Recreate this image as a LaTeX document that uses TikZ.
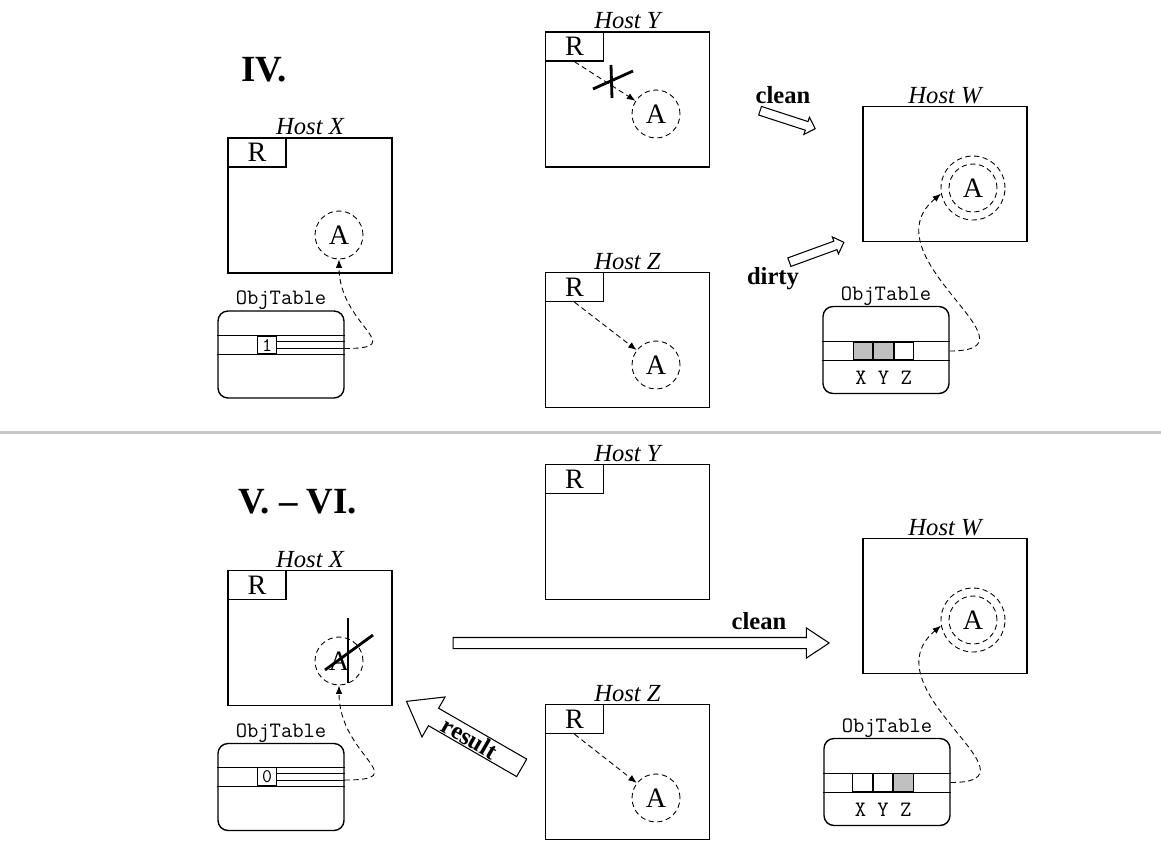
\documentclass[tikz,border=0pt]{standalone}
\usepackage{fontspec}
\setmainfont{Liberation Serif}
\usepackage{tikz}
\usetikzlibrary{arrows.meta,positioning,calc,shapes.arrows}
\definecolor{cellgrey}{RGB}{192,192,192}
\definecolor{rulegrey}{RGB}{200,200,200}

\begin{document}
\begin{tikzpicture}[x=0.02cm,y=-0.02cm,
  host/.style={draw,line width=0.8pt,minimum width=3.28cm,minimum height=2.7cm,inner sep=0pt},
  hostlbl/.style={font=\fontsize{14}{16}\selectfont\itshape,inner sep=1pt},
  rbox/.style={draw,line width=0.8pt,minimum width=1.16cm,minimum height=0.58cm,inner sep=0pt,anchor=north west,font=\fontsize{16}{18}\selectfont},
  obj/.style={draw,densely dashed,circle,line width=0.5pt,minimum size=0.96cm,inner sep=0pt,font=\fontsize{16}{18}\selectfont},
  ring/.style={draw,densely dashed,circle,line width=0.5pt,minimum size=1.28cm,inner sep=0pt},
  objtab/.style={draw,rounded corners=2mm,line width=0.8pt,minimum width=2.52cm,minimum height=1.74cm,inner sep=0pt},
  tablbl/.style={font=\ttfamily\fontsize{12.5}{14}\selectfont,inner sep=0pt},
  cell/.style={draw,line width=0.6pt,minimum width=0.39cm,minimum height=0.36cm,inner sep=0pt,font=\ttfamily\fontsize{11}{12}\selectfont},
  ref/.style={densely dashed,line width=0.5pt,-{Latex[length=1.7mm,width=1.3mm]}},
  refloose/.style={ref,dash pattern=on 3pt off 2pt},
  cut/.style={line width=1.6pt},
  msg/.style={font=\fontsize{14}{16}\selectfont\bfseries,inner sep=0pt},
  hollow/.style={single arrow,draw,line width=0.6pt,inner xsep=0pt,inner ysep=0.08cm,single arrow head extend=0.09cm,single arrow tip angle=90,minimum height=1.16cm},
  stage/.style={font=\fontsize{21}{24}\selectfont\bfseries}
]
\useasboundingbox (0,0) rectangle (1161,846);

% stage IV
\node[stage] (stIV) at (264,70) {IV.};

\node[host] (hostXa) at (310,205.5) {};
\node[hostlbl,above=0pt of hostXa] (lblXa) {Host X};
\node[rbox] (rXa) at (hostXa.north west) {R};
\node[obj] (aXa) at (339,235) {A};
\node[objtab] (tabXa) at (281,354.5) {};
\node[tablbl,above=0pt of tabXa] (tlXa) {ObjTable};
\node[cell] (cXa) at (267,345) {1};
\draw (tabXa.west |- cXa.north) -- (tabXa.east |- cXa.north);
\draw (tabXa.west |- cXa.south) -- (tabXa.east |- cXa.south);
\draw ($(cXa.east)+(0,-3.5)$) -- ($(tabXa.east |- cXa.east)+(0,-3.5)$);
\draw ($(cXa.east)+(0,3.5)$) -- ($(tabXa.east |- cXa.east)+(0,3.5)$);
\draw[ref] ($(tabXa.east |- cXa.east)+(0,3.5)$) to[out=0,in=-90,looseness=1.9] (aXa.south);

\node[host] (hostYa) at (627.5,99.5) {};
\node[hostlbl,above=0pt of hostYa] (lblYa) {Host Y};
\node[rbox] (rYa) at (hostYa.north west) {R};
\node[obj] (aYa) at (656,114) {A};
\draw[ref] (rYa.south) -- (aYa);
\draw[cut] (611,65) -- (612,98);
\draw[cut] (593,89) -- (633,71);

\node[host] (hostZa) at (627.5,340) {};
\node[hostlbl,above=0pt of hostZa] (lblZa) {Host Z};
\node[rbox] (rZa) at (hostZa.north west) {R};
\node[obj] (aZa) at (656,365) {A};
\draw[ref] (rZa.south) -- (aZa);

\node[msg] (clnA) at (783,95) {clean};
\node[hollow,rotate=-18] (clnArrA) at (785.5,119) {};
\node[msg] (drtA) at (773,279) {dirty};
\node[hollow,rotate=20] (drtArrA) at (814.5,253) {};

\node[host] (hostWa) at (945,174) {};
\node[hostlbl,above=0pt of hostWa] (lblWa) {Host W};
\node[obj] (aWa) at (973,188) {A};
\node[ring] (rgWa) at (aWa) {};
\node[objtab] (tabWa) at (886,350) {};
\node[tablbl,above=0pt of tabWa] (tlWa) {ObjTable};
\node[cell,fill=cellgrey] (cWa1) at (863,351) {};
\node[cell,fill=cellgrey,right=0pt of cWa1] (cWa2) {};
\node[cell,right=0pt of cWa2] (cWa3) {};
\draw (tabWa.west |- cWa1.north) -- (tabWa.east |- cWa1.north);
\draw (tabWa.west |- cWa1.south) -- (tabWa.east |- cWa1.south);
\node[tablbl,below=6pt of cWa2] (xyzWa) {X Y Z};
\draw[ref] (tabWa.east |- cWa1.center) to[out=0,in=220,looseness=1.6] (rgWa.190);

% divider
\draw[rulegrey,line width=1.7pt] (0,432) -- (1161,432);

% stage V - VI
\node[stage] (stV) at (298,502) {V. – VI.};

\node[host] (hostYb) at (627.5,532) {};
\node[hostlbl,above=0pt of hostYb] (lblYb) {Host Y};
\node[rbox] (rYb) at (hostYb.north west) {R};

\node[host] (hostXb) at (310,638) {};
\node[hostlbl,above=0pt of hostXb] (lblXb) {Host X};
\node[rbox] (rXb) at (hostXb.north west) {R};
\node[obj] (aXb) at (339,661) {A};
\draw[cut] (348,618) -- (348,683);
\draw[cut] (325,670) -- (373,635);
\node[objtab] (tabXb) at (281,787) {};
\node[tablbl,above=0pt of tabXb] (tlXb) {ObjTable};
\node[cell] (cXb) at (267,776.5) {0};
\draw (tabXb.west |- cXb.north) -- (tabXb.east |- cXb.north);
\draw (tabXb.west |- cXb.south) -- (tabXb.east |- cXb.south);
\draw ($(cXb.east)+(0,-3.5)$) -- ($(tabXb.east |- cXb.east)+(0,-3.5)$);
\draw ($(cXb.east)+(0,3.5)$) -- ($(tabXb.east |- cXb.east)+(0,3.5)$);
\draw[refloose] ($(tabXb.east |- cXb.east)+(0,3.5)$) to[out=0,in=-90,looseness=1.9] (aXb.south);

\node[host] (hostZb) at (627.5,772) {};
\node[hostlbl,above=0pt of hostZb] (lblZb) {Host Z};
\node[rbox] (rZb) at (hostZb.north west) {R};
\node[obj] (aZb) at (656,798) {A};
\draw[ref] (rZb.south) -- (aZb);

\node[msg] (clnB) at (759,621) {clean};
\node[hollow,minimum height=7.52cm,inner ysep=0.1cm,single arrow head extend=0.19cm,single arrow tip angle=67] (clnArrB) at (637,643) {};
\node[hollow,msg,rotate=-30,shape border rotate=180,minimum height=2.66cm,inner ysep=0.5pt,inner xsep=2pt,single arrow head extend=0.26cm,single arrow tip angle=73] (resArr) at (470,738) {result};

\node[host] (hostWb) at (945,606) {};
\node[hostlbl,above=0pt of hostWb] (lblWb) {Host W};
\node[obj] (aWb) at (973,620) {A};
\node[ring] (rgWb) at (aWb) {};
\node[objtab] (tabWb) at (887,782) {};
\node[tablbl,above=0pt of tabWb] (tlWb) {ObjTable};
\node[cell] (cWb1) at (862.5,782.5) {};
\node[cell,right=0pt of cWb1] (cWb2) {};
\node[cell,fill=cellgrey,right=0pt of cWb2] (cWb3) {};
\draw (tabWb.west |- cWb1.north) -- (tabWb.east |- cWb1.north);
\draw (tabWb.west |- cWb1.south) -- (tabWb.east |- cWb1.south);
\node[tablbl,below=6pt of cWb2] (xyzWb) {X Y Z};
\draw[ref] (tabWb.east |- cWb1.center) to[out=0,in=220,looseness=1.6] (rgWb.190);
\end{tikzpicture}
\end{document}
